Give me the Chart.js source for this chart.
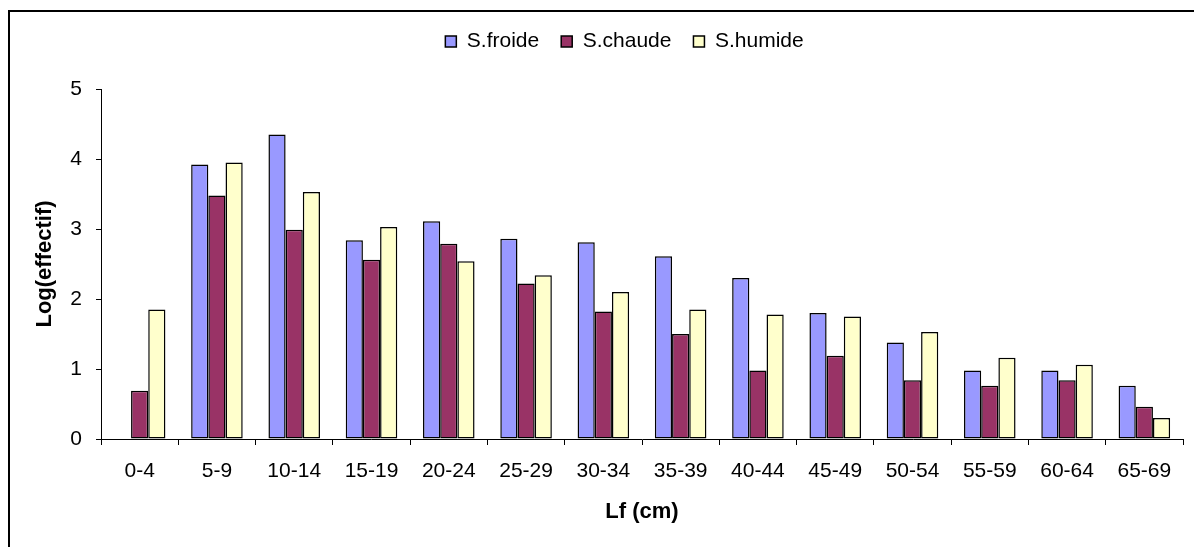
<!DOCTYPE html>
<html>
<head>
<meta charset="utf-8">
<script src="https://cdn.jsdelivr.net/npm/chart.js@4"></script>
<style>
  html, body { margin: 0; padding: 0; background: #fff; overflow: hidden; }
  #wrap { position: relative; width: 1194px; height: 547px; }
  #cadre { position: absolute; left: 8px; top: 10px; width: 3000px; height: 3000px; border: 2px solid #000; }
  canvas { position: absolute; left: 0; top: 0; }
</style>
</head>
<body>
<div id="wrap">
  <div id="cadre"></div>
  <canvas id="graphique" width="1194" height="547"></canvas>
</div>
<script>
// classes de longueur
const classes = ['0-4', '5-9', '10-14', '15-19', '20-24', '25-29', '30-34',
  '35-39', '40-44', '45-49', '50-54', '55-59', '60-64', '65-69'];

// log(effectif) par saison
const froide = [null, 3.92, 4.35, 2.84, 3.11, 2.86, 2.81, 2.61, 2.30, 1.80, 1.38, 0.98, 0.98, 0.76];
const chaude = [0.69, 3.48, 2.99, 2.56, 2.79, 2.22, 1.82, 1.50, 0.98, 1.19, 0.84, 0.76, 0.84, 0.46];
const humide = [1.85, 3.95, 3.53, 3.03, 2.54, 2.34, 2.10, 1.85, 1.78, 1.75, 1.53, 1.16, 1.06, 0.30];

const police = "'Liberation Sans', Arial, sans-serif";

// ajuste la legende (hauteur + decalage comme dans Excel)
const reglageLegende = {
  id: 'reglageLegende',
  beforeInit(chart) {
    const fitOrig = chart.legend.fit;
    chart.legend.fit = function () {
      fitOrig.call(this);
      this.height += 27;
    };
  },
  afterLayout(chart) {
    chart.legend.left += 33;
    chart.legend.right += 33;
  }
};

function serie(label, data, couleur) {
  return {
    label: label,
    data: data,
    backgroundColor: couleur,
    borderColor: '#000',
    borderWidth: 1.5,
    borderSkipped: false,
    categoryPercentage: 0.667,
    barPercentage: 1
  };
}

new Chart(document.getElementById('graphique').getContext('2d'), {
  type: 'bar',
  data: {
    labels: classes,
    datasets: [
      serie('S.froide', froide, '#9999FF'),
      serie('S.chaude', chaude, '#993366'),
      serie('S.humide', humide, '#FFFFCC')
    ]
  },
  options: {
    responsive: false,
    animation: false,
    layout: { padding: { left: 0, right: 11, top: 9, bottom: 0 } },
    plugins: {
      legend: {
        position: 'top',
        labels: {
          boxWidth: 11,
          boxHeight: 11,
          padding: 22,
          color: '#000',
          font: { family: police, size: 21 }
        }
      },
      tooltip: { enabled: false }
    },
    scales: {
      x: {
        afterFit(scale) { scale.height = 108; },
        border: { color: '#000', width: 1 },
        grid: { display: true, drawOnChartArea: false, color: '#000', tickLength: 6, offset: true },
        ticks: { color: '#000', padding: 14, maxRotation: 0, font: { family: police, size: 21 } },
        title: {
          display: true,
          text: 'Lf (cm)',
          color: '#000',
          padding: { top: 0, bottom: 22 },
          font: { family: police, size: 22, weight: 'bold' }
        }
      },
      y: {
        min: 0,
        max: 5,
        afterFit(scale) { scale.width = 101; },
        border: { color: '#000', width: 1 },
        grid: { display: true, drawOnChartArea: false, color: '#000', tickLength: 5 },
        ticks: { stepSize: 1, color: '#000', padding: 14, font: { family: police, size: 21 } },
        title: {
          display: true,
          text: 'Log(effectif)',
          color: '#000',
          padding: { top: 32, bottom: 0 },
          font: { family: police, size: 22, weight: 'bold' }
        }
      }
    }
  },
  plugins: [reglageLegende]
});
</script>
</body>
</html>
